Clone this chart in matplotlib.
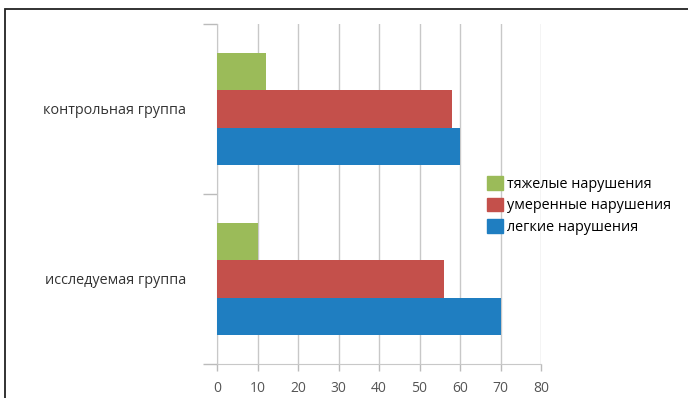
import matplotlib
matplotlib.use("Agg")
import matplotlib.pyplot as plt
from matplotlib.patches import Rectangle, Patch
import numpy as np

plt.rcParams['font.family'] = ['Open Sans', 'DejaVu Sans']

groups = ["исследуемая группа", "контрольная группа"]
series_names = ["тяжелые нарушения", "умеренные нарушения", "легкие нарушения"]
severe = [10, 12]
moderate = [56, 58]
mild = [70, 60]
x_ticks = [0, 10, 20, 30, 40, 50, 60, 70, 80]

colors = {"severe": "#9BBB59", "moderate": "#C4504B", "mild": "#1F7EC1"}

fig = plt.figure(figsize=(6.88, 3.98), dpi=100)
ax = fig.add_axes([217 / 688, 1 - 364 / 398, 324 / 688, 340 / 398])

y = np.arange(len(groups))
h = 0.22
ax.barh(y - h, mild, height=h, color=colors["mild"], zorder=3)
ax.barh(y, moderate, height=h, color=colors["moderate"], zorder=3)
ax.barh(y + h, severe, height=h, color=colors["severe"], zorder=3)

ax.set_xlim(0, 80)
ax.set_ylim(-0.5, 1.5)
ax.set_xticks(x_ticks)
ax.set_xticklabels([str(t) for t in x_ticks], fontsize=10, color="#555555")
ax.xaxis.grid(True, color="#C8C8C8", linewidth=1, zorder=0)
ax.yaxis.grid(False)

# category boundary ticks on the left axis, labels centred between them
ax.set_yticks([-0.5, 0.5, 1.5])
ax.set_yticklabels([])
ax.set_yticks(y, minor=True)
ax.set_yticklabels(groups, minor=True, fontsize=10.4, color="#333333")
ax.tick_params(axis="y", which="minor", length=0, pad=22)
ax.tick_params(axis="y", which="major", length=10, color="#BBBBBB", width=1)
ax.tick_params(axis="x", length=5, color="#BBBBBB", width=1, pad=7)

for s in ["top", "right"]:
    ax.spines[s].set_visible(False)
ax.spines["left"].set_color("#C8C8C8")
ax.spines["bottom"].set_color("#C8C8C8")

handles = [Patch(color=colors["severe"]), Patch(color=colors["moderate"]), Patch(color=colors["mild"])]
fig.legend(handles, series_names, loc="upper left", bbox_to_anchor=(487 / 688, 1 - 176 / 398),
           frameon=False, fontsize=10.4, handlelength=1.1, handleheight=1.1,
           handletextpad=0.3, labelspacing=0.4, borderpad=0, borderaxespad=0)

# outer frame
fig.patches.append(Rectangle((5 / 688, -0.1), 1.2, 1 - 9 / 398 + 0.1, transform=fig.transFigure,
                             fill=False, edgecolor="#222222", linewidth=1.3))

fig.savefig("out.png", dpi=100)
